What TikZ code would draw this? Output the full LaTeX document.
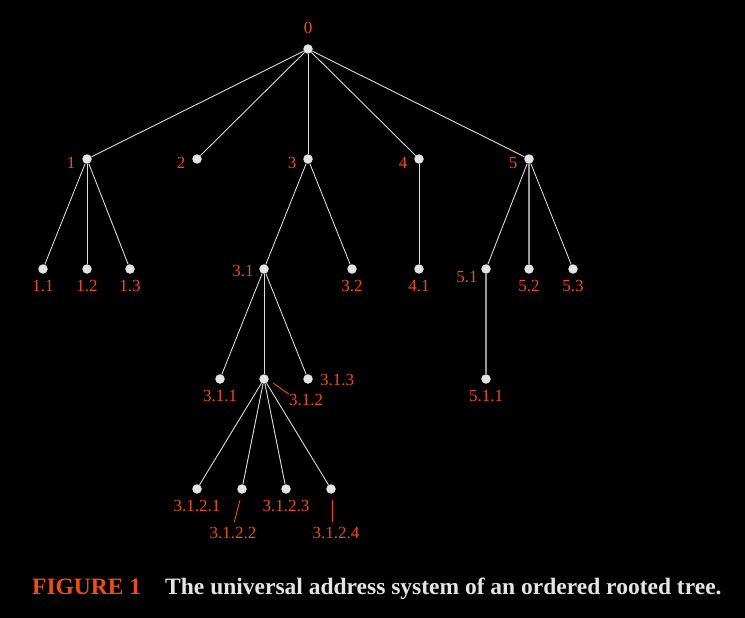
\documentclass[tikz,border=0pt]{standalone}
\usepackage{fontspec}
\setmainfont{Liberation Serif}

\definecolor{addrc}{RGB}{238,78,22}
\definecolor{edgec}{RGB}{218,218,218}
\definecolor{dotc}{RGB}{228,228,228}

\tikzset{
  vtx/.style={circle, fill=dotc, inner sep=0pt, minimum size=9.5pt},
  addr/.style={text=addrc, font=\fontsize{17}{17}\selectfont, inner sep=0pt},
  branch/.style={draw=edgec, line width=0.9pt},
  greybranch/.style={draw=gray!80, line width=1.8pt},
  lead/.style={draw=addrc, line width=0.9pt},
}

\begin{document}
\begin{tikzpicture}[x=1pt,y=-1pt]

% background
\fill[black] (0,0) rectangle (745,618);

% vertices
\node[vtx] (v0) at (308,49) {};

\node[vtx] (v1) at (87,159) {};
\node[vtx] (v2) at (197,159) {};
\node[vtx] (v3) at (308,159) {};
\node[vtx] (v4) at (419,159) {};
\node[vtx] (v5) at (529,159) {};

\node[vtx] (v11) at (43,269) {};
\node[vtx] (v12) at (87,269) {};
\node[vtx] (v13) at (130,269) {};
\node[vtx] (v31) at (264,269) {};
\node[vtx] (v32) at (352,269) {};
\node[vtx] (v41) at (419,269) {};
\node[vtx] (v51) at (486,269) {};
\node[vtx] (v52) at (529,269) {};
\node[vtx] (v53) at (573,269) {};

\node[vtx] (v311) at (220,379) {};
\node[vtx] (v312) at (264,379) {};
\node[vtx] (v313) at (308,379) {};
\node[vtx] (v511) at (486,379) {};

\node[vtx] (v3121) at (197,489) {};
\node[vtx] (v3122) at (242,489) {};
\node[vtx] (v3123) at (286,489) {};
\node[vtx] (v3124) at (331,489) {};

% branches
\foreach \c in {v1,v2,v3,v4,v5} \draw[branch] (v0) -- (\c);
\foreach \c in {v11,v12,v13} \draw[branch] (v1) -- (\c);
\foreach \c in {v31,v32} \draw[branch] (v3) -- (\c);
\draw[branch] (v4) -- (v41);
\foreach \c in {v51,v53} \draw[branch] (v5) -- (\c);
\draw[greybranch] (v5) -- (v52);
\draw[greybranch] (v51) -- (v511);
\foreach \c in {v311,v312,v313} \draw[branch] (v31) -- (\c);
\foreach \c in {v3121,v3122,v3123,v3124} \draw[branch] (v312) -- (\c);

% addresses
\node[addr] (l0) at (308,28) {0};
\node[addr] (l1) at (71,163) {1};
\node[addr] (l2) at (181,163) {2};
\node[addr] (l3) at (292,163) {3};
\node[addr] (l4) at (403,163) {4};
\node[addr] (l5) at (513,163) {5};

\node[addr] (l11) at (43,286) {1.1};
\node[addr] (l12) at (87,286) {1.2};
\node[addr] (l13) at (130,286) {1.3};
\node[addr] (l31) at (243,271) {3.1};
\node[addr] (l32) at (352,286) {3.2};
\node[addr] (l41) at (419,286) {4.1};
\node[addr] (l51) at (467,277) {5.1};
\node[addr] (l52) at (529,286) {5.2};
\node[addr] (l53) at (573,286) {5.3};

\node[addr] (l311) at (220,396) {3.1.1};
\node[addr] (l312) at (306,400) {3.1.2};
\node[addr] (l313) at (337,380) {3.1.3};
\node[addr] (l511) at (486,396) {5.1.1};

\node[addr] (l3121) at (197,506) {3.1.2.1};
\node[addr] (l3122) at (233,533) {3.1.2.2};
\node[addr] (l3123) at (286,506) {3.1.2.3};
\node[addr] (l3124) at (336,533) {3.1.2.4};

% leader lines
\coordinate (t312) at (273,383);
\coordinate (t3122) at (240,500);
\coordinate (t3124) at (332,500);
\draw[lead] (t312) -- (l312.north west);
\draw[lead, shorten >=5pt] (t3122) -- (l3122.north);
\draw[lead, shorten >=5pt] (t3124) -- (l3124.north -| t3124);

% caption
\node[anchor=base west, inner sep=0pt, text=addrc, font=\fontsize{23.5}{24}\selectfont\bfseries] (fig) at (32,594) {FIGURE 1};
\node[anchor=base west, inner sep=0pt, text=dotc, font=\fontsize{23.5}{24}\selectfont\bfseries] (cap) at (165,594) {The universal address system of an ordered rooted tree.};

\end{tikzpicture}
\end{document}
